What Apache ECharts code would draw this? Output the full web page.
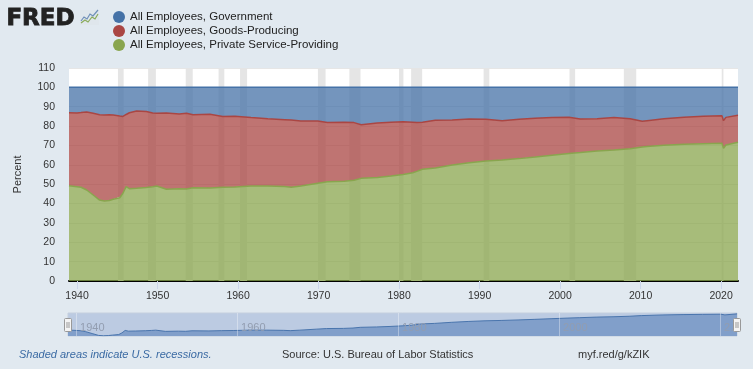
<!DOCTYPE html>
<html>
<head>
<meta charset="utf-8">
<script src="https://cdn.jsdelivr.net/npm/echarts@6/dist/echarts.min.js"></script>
<style>
html,body{margin:0;padding:0;background:#e1e9f0;}
#c{width:753px;height:369px;}
</style>
</head>
<body>
<div id="c"></div>
<script>
// decimal years of observations
var years = [1939.0,1940.0,1940.5,1941.2,1942.0,1942.8,1943.4,1944.0,1944.5,1945.3,1945.5,1945.7,1946.1,1946.5,1947.4,1948.6,1949.4,1949.9,1951.1,1952.7,1953.6,1954.4,1956.5,1958.1,1959.6,1961.6,1963.7,1965.8,1966.6,1967.8,1969.9,1971.1,1973.2,1974.4,1975.3,1977.3,1979.0,1980.5,1981.7,1982.2,1982.9,1984.5,1986.6,1988.7,1990.8,1992.8,1994.9,1996.9,1999.0,2001.1,2002.5,2004.6,2006.7,2008.7,2010.2,2010.8,2012.9,2015.4,2017.8,2020.1,2020.3,2020.6,2022.1];
// percent of total nonfarm employment
var services = [49.2,48.7,48.4,47.0,44.4,41.8,41.3,41.6,42.2,43.0,43.8,45.3,48.7,47.7,47.9,48.3,48.7,49.1,47.4,47.7,47.5,48.2,48.0,48.4,48.6,49.1,49.1,48.8,48.4,49.1,50.5,51.3,51.5,52.0,53.0,53.5,54.2,55.0,55.9,56.6,57.7,58.4,59.9,61.1,62.0,62.5,63.2,64.0,64.9,65.8,66.3,67.1,67.6,68.3,69.2,69.4,70.1,70.6,70.9,71.1,68.5,70.2,71.6];
var goods = [37.7,38.1,38.6,40.3,42.2,44.1,44.4,44.2,43.5,42.2,41.1,39.7,37.3,39.2,39.9,39.2,38.1,37.5,39.4,38.6,39.1,37.7,38.1,36.5,36.5,35.3,34.7,34.5,34.7,33.5,32.1,30.5,30.5,29.8,27.7,28.1,27.8,27.2,26.1,25.2,24.3,24.6,23.3,22.6,21.5,20.3,20.3,20.0,19.6,18.8,17.4,16.7,16.8,15.5,13.3,13.4,13.7,14.0,14.2,14.3,14.3,14.3,14.0];
var government = [13.1,13.2,13.0,12.7,13.4,14.1,14.3,14.2,14.3,14.8,15.1,15.0,14.0,13.1,12.2,12.5,13.2,13.4,13.2,13.7,13.4,14.1,13.9,15.1,14.9,15.6,16.2,16.7,16.9,17.4,17.4,18.2,18.0,18.2,19.3,18.4,18.0,17.8,18.0,18.2,18.0,17.0,16.8,16.3,16.5,17.2,16.5,16.0,15.5,15.4,16.3,16.2,15.6,16.2,17.5,17.2,16.2,15.4,14.9,14.6,17.2,15.5,14.4];
var recessions = [[1945.08,1945.79],[1948.83,1949.79],[1953.5,1954.37],[1957.58,1958.29],[1960.25,1961.12],[1969.92,1970.87],[1973.83,1975.21],[1980.0,1980.54],[1981.5,1982.87],[1990.5,1991.21],[2001.17,2001.87],[2007.92,2009.46],[2020.08,2020.29]];
var xTicks = [1940,1950,1960,1970,1980,1990,2000,2010,2020];
var navTicks = [1940,1960,1980,2000,2020];
var seriesNames = ['All Employees, Government','All Employees, Goods-Producing','All Employees, Private Service-Providing'];

// rows are [value, year] so that the value dimension is the stacked one
function rows(v){ return years.map(function(y,i){ return [v[i], y]; }); }

var FONT = 'Liberation Sans, Arial, sans-serif';
var chart = echarts.init(document.getElementById('c'), null, {renderer:'canvas'});

function areaSeries(name, data, color, z){
  return {
    name: name, type: 'line', stack: 'total', data: rows(data),
    encode: {x: 1, y: 0},
    showSymbol: false, symbol: 'circle', z: z,
    xAxisIndex: 0, yAxisIndex: 0,
    lineStyle: {color: color, width: 1.5},
    itemStyle: {color: color},
    areaStyle: {color: color, opacity: 0.75},
    emphasis: {disabled: true}
  };
}

var option = {
  backgroundColor: '#e1e9f0',
  animation: false,
  textStyle: {fontFamily: FONT},
  legend: {
    orient: 'vertical', left: 108, top: 6, itemGap: 2,
    icon: 'circle', itemWidth: 12, itemHeight: 12,
    data: seriesNames,
    textStyle: {color: '#222', fontSize: 11.5, fontFamily: FONT},
    selectedMode: false
  },
  grid: [
    {left: 69, right: 15, top: 68, bottom: 88, show: true, backgroundColor: '#fff', borderWidth: 0},
    {left: 68, right: 16, top: 313, height: 23, show: true, backgroundColor: '#bccbe2', borderWidth: 1, borderColor: '#c4cfde'}
  ],
  xAxis: [
    {
      type: 'value', gridIndex: 0, min: 1939.0, max: 2022.1,
      axisLine: {show: true, onZero: false, lineStyle: {color: '#000', width: 2}},
      axisTick: {show: true, customValues: xTicks, length: 8, lineStyle: {color: '#ccd6eb'}},
      axisLabel: {customValues: xTicks, color: '#333', fontSize: 10.5, margin: 10, fontFamily: FONT,
        formatter: function(v){ return String(Math.round(v)); }},
      splitLine: {show: false}
    },
    {
      type: 'value', gridIndex: 1, min: 1939.0, max: 2022.1, z: 10,
      axisLine: {show: false},
      axisTick: {show: true, inside: true, length: 23, customValues: navTicks, lineStyle: {color: 'rgba(255,255,255,0.35)'}},
      axisLabel: {customValues: navTicks, inside: true, margin: 3, align: 'left', padding: [0,0,0,4], color: '#929db0', fontSize: 11, fontFamily: FONT,
        formatter: function(v){ return v === 2020 ? '2.' : String(Math.round(v)); }},
      splitLine: {show: false}
    }
  ],
  yAxis: [
    {
      type: 'value', gridIndex: 0, min: 0, max: 110, interval: 10,
      name: 'Percent', nameLocation: 'middle', nameGap: 46, nameRotate: 90,
      nameTextStyle: {color: '#333', fontSize: 11, fontFamily: FONT},
      axisLine: {show: false}, axisTick: {show: false},
      axisLabel: {color: '#333', fontSize: 10.5, margin: 14, fontFamily: FONT},
      splitLine: {show: true, lineStyle: {color: '#e6e6e6', width: 1}}
    },
    {
      type: 'value', gridIndex: 1, min: 41, max: 72.8,
      show: false, splitLine: {show: false}
    }
  ],
  series: [
    {
      name: 'recessions', type: 'line', data: [[1939, 0]], showSymbol: false, z: 1,
      xAxisIndex: 0, yAxisIndex: 0,
      lineStyle: {opacity: 0}, silent: true,
      markArea: {
        silent: true,
        itemStyle: {color: '#e5e5e5'},
        data: recessions.map(function(r){ return [{xAxis: r[0]}, {xAxis: r[1]}]; })
      }
    },
    areaSeries(seriesNames[2], services, '#89a54e', 4),
    areaSeries(seriesNames[1], goods, '#aa4643', 3),
    areaSeries(seriesNames[0], government, '#4572a7', 2),
    {
      name: 'navigator', type: 'line', data: rows(services), encode: {x: 1, y: 0}, showSymbol: false,
      xAxisIndex: 1, yAxisIndex: 1, silent: true, z: 2,
      lineStyle: {color: '#4a75ad', width: 1},
      areaStyle: {color: '#819fca', opacity: 1}
    }
  ],
  graphic: [
    {type: 'text', left: 6, top: 7, style: {text: 'FRED', font: 'bold 23px "DejaVu Sans", sans-serif', fill: '#222', stroke: '#222', lineWidth: 0.8}},
    {type: 'rect', shape: {x: 80, y: 10, width: 19, height: 15}, style: {fill: '#dfe6ec'}},
    {type: 'polyline', shape: {points: [[81,21],[84,17],[87,19],[90,14],[93,16],[98,10]]}, style: {stroke: '#6f8fb8', lineWidth: 1.2, fill: null}},
    {type: 'polyline', shape: {points: [[81,23],[85,20],[88,22],[92,17],[95,19],[98,14]]}, style: {stroke: '#8aab5a', lineWidth: 1.2, fill: null}},
    {type: 'text', left: 19, top: 349, style: {text: 'Shaded areas indicate U.S. recessions.', font: 'italic 11px ' + FONT, fill: '#3a6aa3'}},
    {type: 'text', left: 282, top: 349, style: {text: 'Source: U.S. Bureau of Labor Statistics', font: '11px ' + FONT, fill: '#333'}},
    {type: 'text', left: 578, top: 349, style: {text: 'myf.red/g/kZIK', font: '11px ' + FONT, fill: '#333'}},
    {type: 'rect', shape: {x: 64.5, y: 318.5, width: 7, height: 13, r: 1}, style: {fill: '#f4f4f4', stroke: '#999', lineWidth: 1}, z: 100},
    {type: 'line', shape: {x1: 67, y1: 322, x2: 67, y2: 328}, style: {stroke: '#999'}, z: 101},
    {type: 'line', shape: {x1: 69, y1: 322, x2: 69, y2: 328}, style: {stroke: '#999'}, z: 101},
    {type: 'rect', shape: {x: 733.5, y: 318.5, width: 7, height: 13, r: 1}, style: {fill: '#f4f4f4', stroke: '#999', lineWidth: 1}, z: 100},
    {type: 'line', shape: {x1: 736, y1: 322, x2: 736, y2: 328}, style: {stroke: '#999'}, z: 101},
    {type: 'line', shape: {x1: 738, y1: 322, x2: 738, y2: 328}, style: {stroke: '#999'}, z: 101}
  ]
};
chart.setOption(option);
</script>
</body>
</html>
